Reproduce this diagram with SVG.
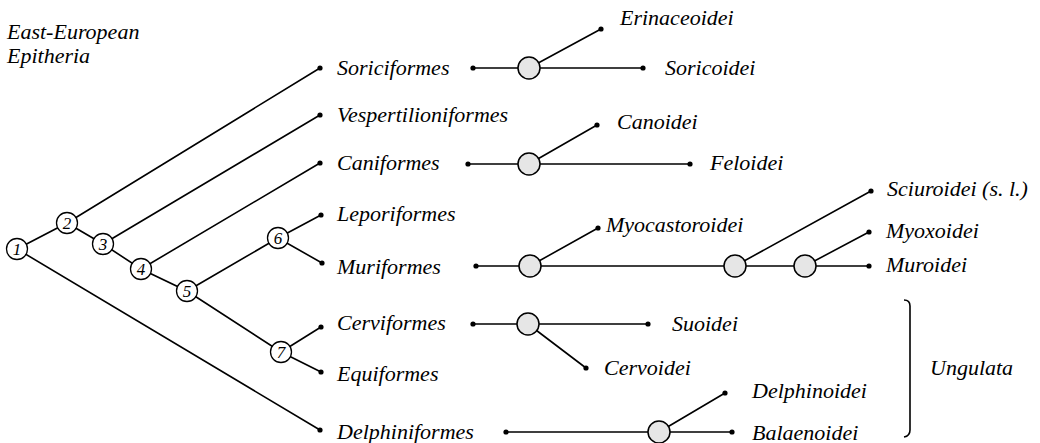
<svg xmlns="http://www.w3.org/2000/svg" width="1040" height="443" viewBox="0 0 1040 443">
<defs>
<style>
.l{stroke:#000;stroke-width:1.6;fill:none}
.c{fill:#fff;stroke:#000;stroke-width:1.3}
.g{fill:#e6e6e6;stroke:#000;stroke-width:1.5}
.d{fill:#000}
.t{font-family:"Liberation Serif","Times New Roman",serif;font-style:italic;font-size:22px;fill:#000}
.n{font-family:"Liberation Serif","Times New Roman",serif;font-style:italic;font-size:17px;fill:#000;text-anchor:middle}
</style>
</defs>
<rect width="1040" height="443" fill="#fff"/>
<g id="connectors">
<path class="l" d="M17,249 L67,223 L103,244 L141,269 L187,291 L278,238 M187,291 L281,352 M17,249 L320,430 M67,223 L320,68 M103,244 L320,115 M141,269 L320,163 M278,238 L321,215 M278,238 L322,263 M281,352 L321,327 M281,352 L321,372"/>
<path class="l" d="M473,68 L643,68 M529,68 L601,29"/>
<path class="l" d="M468,164 L690,164 M529,164 L597,125"/>
<path class="l" d="M476,266 L869,266 M530,266 L598,228 M735,266 L871,191 M805,266 L869,232"/>
<path class="l" d="M473,324 L648,324 M528,324 L586,368"/>
<path class="l" d="M506,432 L732,432 M659,432 L725,393"/>
<path class="l" d="M904,300 Q910,300 910,306 L910,430 Q910,436 904,437"/>
</g>
<g id="dots">
<circle class="d" cx="320" cy="68" r="2.6"/>
<circle class="d" cx="320" cy="115" r="2.6"/>
<circle class="d" cx="320" cy="163" r="2.6"/>
<circle class="d" cx="321" cy="215" r="2.6"/>
<circle class="d" cx="322" cy="263" r="2.6"/>
<circle class="d" cx="321" cy="327" r="2.6"/>
<circle class="d" cx="321" cy="372" r="2.6"/>
<circle class="d" cx="320" cy="430" r="2.6"/>
<circle class="d" cx="473" cy="68" r="2.6"/>
<circle class="d" cx="643" cy="68" r="2.6"/>
<circle class="d" cx="601" cy="29" r="2.6"/>
<circle class="d" cx="468" cy="164" r="2.6"/>
<circle class="d" cx="690" cy="164" r="2.6"/>
<circle class="d" cx="597" cy="125" r="2.6"/>
<circle class="d" cx="476" cy="266" r="2.6"/>
<circle class="d" cx="598" cy="228" r="2.6"/>
<circle class="d" cx="871" cy="191" r="2.6"/>
<circle class="d" cx="869" cy="232" r="2.6"/>
<circle class="d" cx="869" cy="266" r="2.6"/>
<circle class="d" cx="473" cy="324" r="2.6"/>
<circle class="d" cx="648" cy="324" r="2.6"/>
<circle class="d" cx="586" cy="368" r="2.6"/>
<circle class="d" cx="506" cy="432" r="2.6"/>
<circle class="d" cx="732" cy="432" r="2.6"/>
<circle class="d" cx="725" cy="393" r="2.6"/>
</g>
<g id="node1"><circle class="c" cx="17" cy="249" r="10.5"/><text class="n" x="17" y="255">1</text></g>
<g id="node2"><circle class="c" cx="67" cy="223" r="10.5"/><text class="n" x="67" y="229">2</text></g>
<g id="node3"><circle class="c" cx="103" cy="244" r="10.5"/><text class="n" x="103" y="250">3</text></g>
<g id="node4"><circle class="c" cx="141" cy="269" r="10.5"/><text class="n" x="141" y="275">4</text></g>
<g id="node5"><circle class="c" cx="187" cy="291" r="10.5"/><text class="n" x="187" y="297">5</text></g>
<g id="node6"><circle class="c" cx="278" cy="238" r="10.5"/><text class="n" x="278" y="244">6</text></g>
<g id="node7"><circle class="c" cx="281" cy="352" r="10.5"/><text class="n" x="281" y="358">7</text></g>
<g id="soric-split"><circle class="g" cx="529" cy="68" r="11"/></g>
<g id="cani-split"><circle class="g" cx="529" cy="164" r="11"/></g>
<g id="muri-split1"><circle class="g" cx="530" cy="266" r="11"/></g>
<g id="muri-split2"><circle class="g" cx="735" cy="266" r="11"/></g>
<g id="muri-split3"><circle class="g" cx="805" cy="266" r="11"/></g>
<g id="cerv-split"><circle class="g" cx="528" cy="324" r="11"/></g>
<g id="delph-split"><circle class="g" cx="659" cy="432" r="11"/></g>
<g id="labels">
<text class="t" x="7" y="39">East-European</text>
<text class="t" x="7" y="63">Epitheria</text>
<text class="t" x="337" y="75">Soriciformes</text>
<text class="t" x="337" y="122">Vespertilioniformes</text>
<text class="t" x="337" y="170">Caniformes</text>
<text class="t" x="337" y="221">Leporiformes</text>
<text class="t" x="337" y="274">Muriformes</text>
<text class="t" x="337" y="330">Cerviformes</text>
<text class="t" x="337" y="381">Equiformes</text>
<text class="t" x="337" y="439">Delphiniformes</text>
<text class="t" x="620" y="25">Erinaceoidei</text>
<text class="t" x="665" y="75">Soricoidei</text>
<text class="t" x="617" y="129">Canoidei</text>
<text class="t" x="710" y="170">Feloidei</text>
<text class="t" x="606" y="232">Myocastoroidei</text>
<text class="t" x="887" y="196">Sciuroidei (s. l.)</text>
<text class="t" x="886" y="238">Myoxoidei</text>
<text class="t" x="886" y="272">Muroidei</text>
<text class="t" x="672" y="331">Suoidei</text>
<text class="t" x="604" y="375">Cervoidei</text>
<text class="t" x="752" y="398">Delphinoidei</text>
<text class="t" x="752" y="440">Balaenoidei</text>
<text class="t" x="930" y="375">Ungulata</text>
</g>
</svg>
